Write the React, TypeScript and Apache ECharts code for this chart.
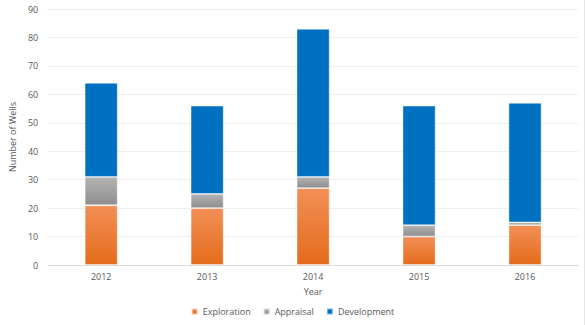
import React, { useEffect, useRef } from "react";
import * as echarts from "echarts";

const years = ["2012", "2013", "2014", "2015", "2016"];
const exploration = [21, 20, 27, 10, 14];
const appraisal = [10, 5, 4, 4, 1];
const development = [33, 31, 52, 42, 42];

const FONT = "'Open Sans', sans-serif";
const TXT = "#595959";

export default function App() {
  const ref = useRef<HTMLDivElement>(null);
  useEffect(() => {
    if (!ref.current) return;
    const chart = echarts.init(ref.current, null, { renderer: "svg" });
    const grad = (top: string, bottom: string) =>
      new echarts.graphic.LinearGradient(0, 0, 0, 1, [
        { offset: 0, color: top },
        { offset: 1, color: bottom },
      ]);
    chart.setOption({
      animation: false,
      textStyle: { fontFamily: FONT },
      grid: { left: 45, right: 7, top: 9, bottom: 60 },
      legend: {
        bottom: 4,
        left: "center",
        itemWidth: 6,
        itemHeight: 6,
        itemGap: 12,
        icon: "rect",
        textStyle: { color: TXT, fontSize: 9, fontFamily: FONT },
        data: ["Exploration", "Appraisal", "Development"],
      },
      xAxis: {
        type: "category",
        data: years,
        name: "Year",
        nameLocation: "middle",
        nameGap: 22,
        nameTextStyle: { color: TXT, fontSize: 9 },
        axisLine: { lineStyle: { color: "#d9d9d9" } },
        axisTick: { show: false },
        axisLabel: { color: TXT, fontSize: 9, margin: 7 },
      },
      yAxis: {
        type: "value",
        min: 0,
        max: 90,
        interval: 10,
        name: "Number of Wells",
        nameLocation: "middle",
        nameGap: 23,
        nameTextStyle: { color: TXT, fontSize: 9 },
        axisLine: { show: false },
        axisTick: { show: false },
        axisLabel: { color: TXT, fontSize: 9, margin: 10 },
        splitLine: { lineStyle: { color: "#efefef" } },
      },
      series: [
        {
          name: "Exploration",
          type: "bar",
          stack: "w",
          barWidth: 33,
          data: exploration,
          itemStyle: {
            color: grad("#f28f56", "#e46c1c"),
            borderColor: "rgba(255,255,255,0.6)",
            borderWidth: 0.8,
          },
        },
        {
          name: "Appraisal",
          type: "bar",
          stack: "w",
          data: appraisal,
          itemStyle: {
            color: grad("#b3b3b3", "#8e8e8e"),
            borderColor: "rgba(255,255,255,0.6)",
            borderWidth: 0.8,
          },
        },
        {
          name: "Development",
          type: "bar",
          stack: "w",
          data: development,
          itemStyle: {
            color: "#0070c0",
            borderColor: "rgba(255,255,255,0.5)",
            borderWidth: 0.8,
          },
        },
      ],
      graphic: [
        {
          type: "line",
          shape: { x1: 584.5, y1: 0, x2: 584.5, y2: 325 },
          style: { stroke: "#e6e6e6", lineWidth: 1 },
        },
      ],
    });
    return () => chart.dispose();
  }, []);
  return <div ref={ref} style={{ width: 585, height: 325, position: "absolute", left: 0, top: 0 }} />;
}
